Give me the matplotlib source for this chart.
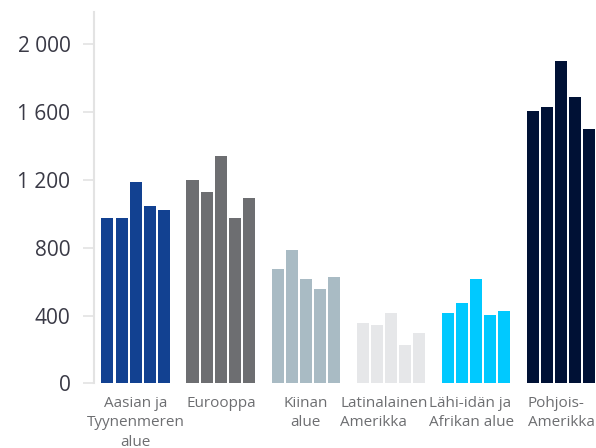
import matplotlib
matplotlib.use('Agg')
import matplotlib.pyplot as plt

# regions and five yearly values per region
regions = ['Aasian ja\nTyynenmeren\nalue', 'Eurooppa', 'Kiinan\nalue',
           'Latinalainen\nAmerikka', 'Lähi-idän ja\nAfrikan alue', 'Pohjois-\nAmerikka']
values = [
    [975, 975, 1190, 1046, 1022],
    [1200, 1130, 1341, 975, 1093],
    [674, 786, 615, 556, 627],
    [356, 344, 415, 226, 297],
    [415, 474, 615, 403, 427],
    [1606, 1630, 1902, 1689, 1500],
]
colors = ['#124191', '#6d6e71', '#a9bbc4', '#e6e7e9', '#00c9ff', '#001135']
label_align = ['center', 'center', 'center', 'left', 'left', 'left']
label_shift = [0, 0, 0, -0.5, -0.3, 0]   # small nudges of the group labels

y_ticks = [0, 400, 800, 1200, 1600, 2000]
y_labels = ['0', '400', '800', '1 200', '1 600', '2 000']

plt.rcParams['font.family'] = ['Open Sans', 'DejaVu Sans']

fig = plt.figure(figsize=(5.96, 4.48), dpi=100)
ax = fig.add_axes([0.1577, 0.1444, 0.8423, 0.8286])

group_step = 6
centers = []
for i, vals in enumerate(values):
    xs = [i * group_step + j for j in range(len(vals))]
    ax.bar(xs, vals, width=0.85, color=colors[i])
    centers.append(i * group_step + 2 + label_shift[i])

ax.set_xlim(-0.95, 34.47)
ax.set_ylim(0, 2190)

ax.set_yticks(y_ticks)
ax.set_yticklabels(y_labels)
ax.set_xticks(centers)
ax.set_xticklabels(regions)
for lbl, al in zip(ax.get_xticklabels(), label_align):
    lbl.set_multialignment(al)
    lbl.set_linespacing(1.4)

ax.tick_params(axis='y', length=8, width=1.2, color='#e3e3e3', pad=9,
               labelsize=15, labelcolor='#3a3a46')
ax.tick_params(axis='x', length=0, pad=9, labelsize=11, labelcolor='#6d6e71')

for s in ['top', 'right', 'bottom']:
    ax.spines[s].set_visible(False)
ax.spines['left'].set_color('#e3e3e3')
ax.spines['left'].set_linewidth(1.5)

fig.savefig('out.png', dpi=100)
